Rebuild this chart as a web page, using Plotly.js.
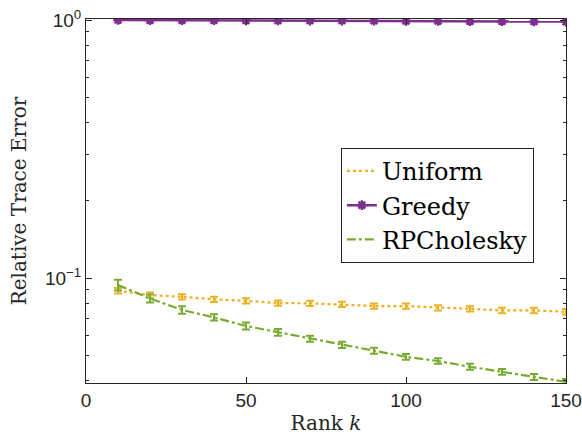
<!DOCTYPE html>
<html><head><meta charset="utf-8">
<script src="https://cdn.plot.ly/plotly-3.0.1.min.js"></script>
<style>html,body{margin:0;padding:0;background:#fff}#c{width:582px;height:441px}</style>
</head><body><div id="c"></div>
<script>
var ranks = [10,20,30,40,50,60,70,80,90,100,110,120,130,140,150];
var uniform = [0.0893,0.0859,0.0846,0.0827,0.0816,0.0800,0.0798,0.0791,0.0779,0.0779,0.0767,0.0760,0.0749,0.0749,0.0740];
var uniformErr = [0.0022,0.0020,0.0020,0.0019,0.0019,0.0019,0.0019,0.0019,0.0018,0.0018,0.0018,0.0018,0.0018,0.0018,0.0018];
var greedy = [1.0,0.999,0.998,0.998,0.997,0.996,0.995,0.995,0.993,0.992,0.991,0.990,0.989,0.988,0.986];
var rpchol = [0.0939,0.0834,0.0752,0.0704,0.0652,0.0616,0.0582,0.0551,0.0523,0.0495,0.0477,0.0453,0.0433,0.0414,0.0396];
var rpcholErr = [0.0045,0.0030,0.0025,0.0020,0.0020,0.0018,0.0016,0.0015,0.0014,0.0013,0.0012,0.0012,0.0011,0.0011,0.0010];
var yTickVals = [0.1, 1];
var yTickText = ['10<sup>−1</sup>', '10<sup>0</sup>'];
var yMinorVals = [0.04,0.05,0.06,0.07,0.08,0.09,0.2,0.3,0.4,0.5,0.6,0.7,0.8,0.9];
var xTickVals = [0,50,100,150];

var orange = '#EDB120', purple = '#7E2F8E', green = '#77AC30';
var serif = 'DejaVu Serif, Liberation Serif, serif';
var traces = [
  {x: ranks, y: uniform, name: 'Uniform', mode: 'lines', type: 'scatter',
   line: {color: orange, width: 2.2, dash: 'dot'},
   error_y: {type: 'data', array: uniformErr, visible: true, color: orange, thickness: 2, width: 4}},
  {x: ranks, y: greedy, name: 'Greedy', mode: 'lines+markers', type: 'scatter',
   line: {color: purple, width: 2.5},
   marker: {symbol: 'asterisk-open', size: 8, color: purple, line: {color: purple, width: 2.5}}},
  {x: ranks, y: rpchol, name: 'RPCholesky', mode: 'lines', type: 'scatter',
   line: {color: green, width: 2.2, dash: 'dashdot'},
   error_y: {type: 'data', array: rpcholErr, visible: true, color: green, thickness: 2, width: 4}}
];
var axisCommon = {showline: true, linecolor: '#262626', linewidth: 1, mirror: 'allticks',
  ticks: 'inside', tickcolor: '#262626', ticklen: 6, tickwidth: 1, showgrid: false, zeroline: false,
  tickfont: {family: 'Liberation Sans, Arial, sans-serif', size: 19, color: '#262626'}};
var layout = {
  width: 582, height: 441,
  margin: {l: 86, r: 16, t: 19, b: 58},
  paper_bgcolor: '#fff', plot_bgcolor: '#fff',
  showlegend: true,
  legend: {x: 0.531, y: 0.646, xanchor: 'left', yanchor: 'top', bgcolor: '#fff',
    bordercolor: '#262626', borderwidth: 1,
    font: {family: serif, size: 24, color: '#000'},
    tracegroupgap: 0, itemwidth: 30},
  xaxis: Object.assign({}, axisCommon, {range: [0, 150], tickmode: 'array', tickvals: xTickVals,
    title: {text: 'Rank <i>k</i>', standoff: 6, font: {family: serif, size: 20, color: '#262626'}}}),
  yaxis: Object.assign({}, axisCommon, {type: 'log', range: [Math.log10(0.0392), 0.004],
    tickmode: 'array', tickvals: yTickVals, ticktext: yTickText,
    minor: {tickmode: 'array', tickvals: yMinorVals, ticks: 'inside', ticklen: 3, tickcolor: '#262626', showgrid: false},
    title: {text: 'Relative Trace Error', standoff: 12, font: {family: serif, size: 20, color: '#262626'}}})
};
Plotly.newPlot('c', traces, layout, {displayModeBar: false, staticPlot: true});
</script></body></html>
